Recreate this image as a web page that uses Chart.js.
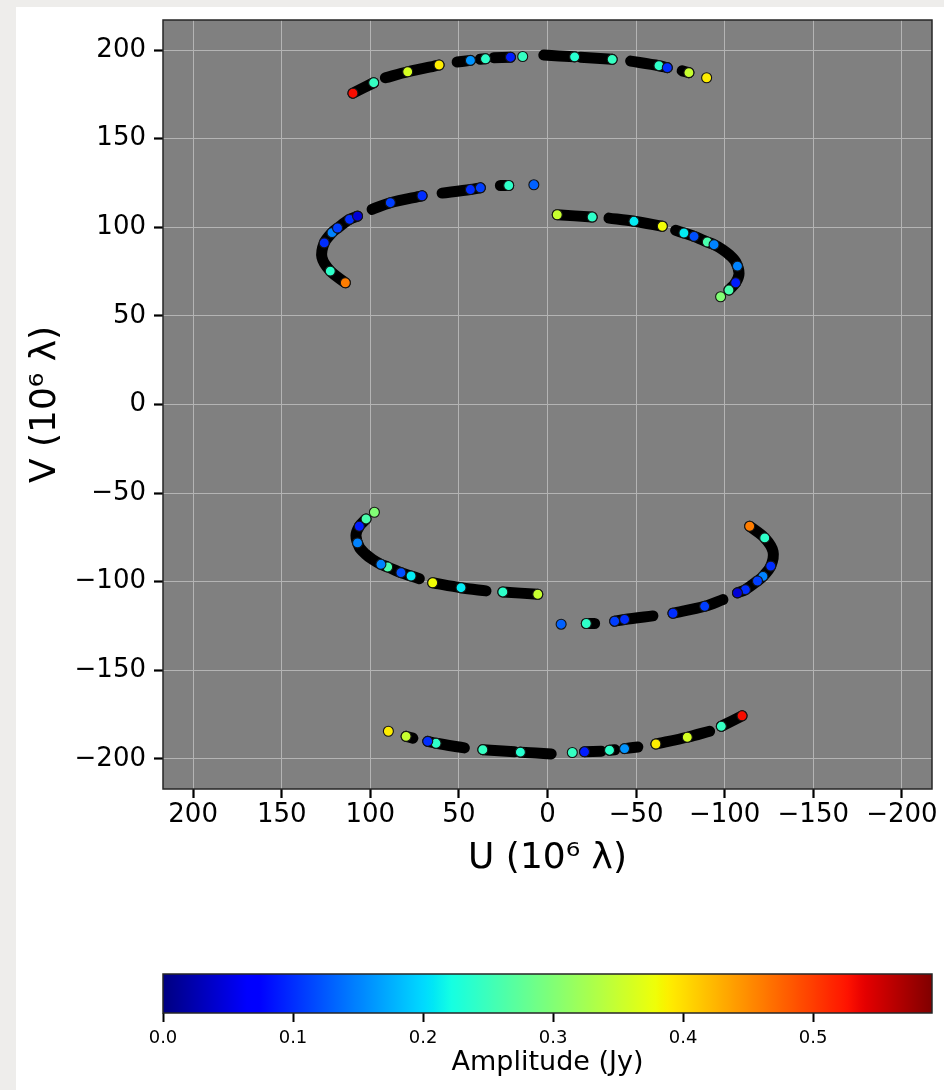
<!DOCTYPE html>
<html>
<head>
<meta charset="utf-8">
<script src="https://cdn.jsdelivr.net/npm/chart.js@4.4.1/dist/chart.umd.min.js"></script>
<style>
  html, body { margin: 0; padding: 0; background: #eeedeb; }
  body { width: 944px; height: 1090px; position: relative; overflow: hidden; }
  #panel { position: absolute; left: 16px; top: 7px; width: 928px; height: 1083px; background: #fff; }
  #uv { position: absolute; left: 0; top: 0; }
  #cbar { position: absolute; left: 0; top: 900px; }
</style>
</head>
<body>
<div id="panel"></div>
<canvas id="uv" width="944" height="900"></canvas>
<canvas id="cbar" width="944" height="190"></canvas>
<script>
// uv tracks (10^6 lambda), null = gap between scans
var trackU = [
  109.8, 98.1, null,
  91.5, 78.9, 61.2, null,
  51, 43.5, null,
  38, 35, null,
  30.3, 20.9, null,
  2.1, -15.3, null,
  -18.6, -36.5, null,
  -46.9, -62.9, -67.6, null,
  -76, -79.8, null,
  114.1, 122.6, 127.3, 126, 121.6, 118.5, 111.7, 107.2, null,
  99, 88.7, 70.8, null,
  59.5, 43.5, 37.9, null,
  26.6, 21.9, null,
  -5.5, -25.2, null,
  -34.7, -48.8, -64.8, null,
  -72.3, -77, -82.7, -90.2, -94, -98.7, -102.8, -106.2, -108.1, -106.2, -102.4, null,
  // conjugate half
  -109.8, -98.1, null,
  -91.5, -78.9, -61.2, null,
  -51, -43.5, null,
  -38, -35, null,
  -30.3, -20.9, null,
  -2.1, 15.3, null,
  18.6, 36.5, null,
  46.9, 62.9, 67.6, null,
  76, 79.8, null,
  -114.1, -122.6, -127.3, -126, -121.6, -118.5, -111.7, -107.2, null,
  -99, -88.7, -70.8, null,
  -59.5, -43.5, -37.9, null,
  -26.6, -21.9, null,
  5.5, 25.2, null,
  34.7, 48.8, 64.8, null,
  72.3, 77, 82.7, 90.2, 94, 98.7, 102.8, 106.2, 108.1, 106.2, 102.4
];
var trackV = [
  175.7, 181.6, null,
  184.4, 187.8, 191.6, null,
  193.3, 194.2, null,
  194.8, 195.1, null,
  195.7, 196.0, null,
  197.2, 196.2, null,
  196.0, 194.8, null,
  193.8, 191.2, 190.1, null,
  188.3, 187.3, null,
  68.7, 75.3, 83, 91.2, 97, 99.6, 104.5, 106.3, null,
  110.1, 113.9, 117.8, null,
  119.3, 121.3, 122.3, null,
  123.6, 123.6, null,
  107.1, 105.8, null,
  105.2, 103.4, 100.6, null,
  98.3, 96.8, 94.9, 91.7, 90.2, 87.5, 84.3, 80.5, 74, 68.7, 64.6, null,
  -175.7, -181.6, null,
  -184.4, -187.8, -191.6, null,
  -193.3, -194.2, null,
  -194.8, -195.1, null,
  -195.7, -196.0, null,
  -197.2, -196.2, null,
  -196.0, -194.8, null,
  -193.8, -191.2, -190.1, null,
  -188.3, -187.3, null,
  -68.7, -75.3, -83, -91.2, -97, -99.6, -104.5, -106.3, null,
  -110.1, -113.9, -117.8, null,
  -119.3, -121.3, -122.3, null,
  -123.6, -123.6, null,
  -107.1, -105.8, null,
  -105.2, -103.4, -100.6, null,
  -98.3, -96.8, -94.9, -91.7, -90.2, -87.5, -84.3, -80.5, -74, -68.7, -64.6
];

// visibilities that show their colour
var visU = [
  109.8, 98.1, 78.9, 61.2, 43.5, 35, 20.9, 14, -15.3, -36.5, -62.9, -67.6, -79.8, -89.8,
  114.1, 122.6, 126, 121.6, 118.5, 111.7, 107.2, 88.7, 70.8, 43.5, 37.9, 21.9, 7.7,
  -5.5, -25.2, -48.8, -64.8, -77, -82.7, -90.2, -94, -107.2, -106.2, -102.4, -97.7,
  -109.8, -98.1, -78.9, -61.2, -43.5, -35, -20.9, -14, 15.3, 36.5, 62.9, 67.6, 79.8, 89.8,
  -114.1, -122.6, -126, -121.6, -118.5, -111.7, -107.2, -88.7, -70.8, -43.5, -37.9, -21.9, -7.7,
  5.5, 25.2, 48.8, 64.8, 77, 82.7, 90.2, 94, 107.2, 106.2, 102.4, 97.7
];
var visV = [
  175.7, 181.6, 187.8, 191.6, 194.2, 195.1, 196, 196.4, 196.2, 194.8, 191.2, 190.1, 187.3, 184.4,
  68.7, 75.3, 91.2, 97, 99.6, 104.5, 106.3, 113.9, 117.8, 121.3, 122.3, 123.6, 124,
  107.1, 105.8, 103.4, 100.6, 96.8, 94.9, 91.7, 90.2, 78.1, 68.7, 64.6, 60.8,
  -175.7, -181.6, -187.8, -191.6, -194.2, -195.1, -196, -196.4, -196.2, -194.8, -191.2, -190.1, -187.3, -184.4,
  -68.7, -75.3, -91.2, -97, -99.6, -104.5, -106.3, -113.9, -117.8, -121.3, -122.3, -123.6, -124,
  -107.1, -105.8, -103.4, -100.6, -96.8, -94.9, -91.7, -90.2, -78.1, -68.7, -64.6, -60.8
];
var visAmp = [
  0.53, 0.245, 0.36, 0.39, 0.16, 0.24, 0.09, 0.245, 0.235, 0.245, 0.24, 0.10, 0.35, 0.39,
  0.46, 0.24, 0.10, 0.15, 0.11, 0.10, 0.045, 0.11, 0.10, 0.10, 0.11, 0.24, 0.13,
  0.35, 0.24, 0.21, 0.38, 0.21, 0.12, 0.26, 0.15, 0.15, 0.09, 0.26, 0.30,
  0.53, 0.245, 0.36, 0.39, 0.16, 0.24, 0.09, 0.245, 0.235, 0.245, 0.24, 0.10, 0.35, 0.39,
  0.46, 0.24, 0.10, 0.15, 0.11, 0.10, 0.045, 0.11, 0.10, 0.10, 0.11, 0.24, 0.13,
  0.35, 0.24, 0.21, 0.38, 0.21, 0.12, 0.26, 0.15, 0.15, 0.09, 0.26, 0.30
];

var axisTicks = [-200, -150, -100, -50, 0, 50, 100, 150, 200];
var ampMax = 0.5915;
var ampTicks = [0, 0.1, 0.2, 0.3, 0.4, 0.5];

var FONT = '"DejaVu Sans", "Liberation Sans", sans-serif';

// matplotlib jet
function jet(t) {
  t = Math.max(0, Math.min(1, t));
  function seg(pts) {
    for (var i = 1; i < pts.length; i++) {
      if (t <= pts[i][0]) {
        var a = pts[i - 1], b = pts[i];
        return a[1] + (b[1] - a[1]) * (t - a[0]) / (b[0] - a[0]);
      }
    }
    return pts[pts.length - 1][1];
  }
  var r = seg([[0, 0], [0.35, 0], [0.66, 1], [0.89, 1], [1, 0.5]]);
  var g = seg([[0, 0], [0.125, 0], [0.375, 1], [0.64, 1], [0.91, 0], [1, 0]]);
  var b = seg([[0, 0.5], [0.11, 1], [0.34, 1], [0.65, 0], [1, 0]]);
  return 'rgb(' + Math.round(r * 255) + ',' + Math.round(g * 255) + ',' + Math.round(b * 255) + ')';
}

function minus(v) {
  return v < 0 ? '\u2212' + Math.abs(v) : String(v);
}

var trackData = trackU.map(function (u, i) { return { x: u, y: trackV[i] }; });
var visData = visU.map(function (u, i) { return { x: u, y: visV[i] }; });
var visColors = visAmp.map(function (a) { return jet(a / ampMax); });

var framePlugin = {
  id: 'frame',
  beforeDraw: function (chart) {
    var a = chart.chartArea, ctx = chart.ctx;
    ctx.save();
    ctx.fillStyle = '#808080';
    ctx.fillRect(a.left, a.top, a.right - a.left, a.bottom - a.top);
    ctx.restore();
  },
  afterDraw: function (chart) {
    var a = chart.chartArea, ctx = chart.ctx;
    ctx.save();
    ctx.strokeStyle = '#262626';
    ctx.lineWidth = 1.5;
    ctx.strokeRect(a.left, a.top, a.right - a.left, a.bottom - a.top);
    ctx.restore();
  }
};

function axisOpts(title, isX) {
  return {
    type: 'linear',
    reverse: isX,
    min: -217,
    max: 217,
    afterBuildTicks: function (s) { s.ticks = axisTicks.map(function (v) { return { value: v }; }); },
    afterFit: function (s) {
      if (isX) s.height = 111; else s.width = 147;
      s.paddingTop = 0; s.paddingBottom = 0; s.paddingLeft = 0; s.paddingRight = 0;
    },
    border: { display: false },
    grid: { color: '#b4b4b4', lineWidth: 1, tickColor: '#000', tickLength: 9, tickWidth: 2.2 },
    ticks: {
      color: '#000',
      font: { family: FONT, size: 26 },
      padding: isX ? 2 : 8,
      maxRotation: 0,
      callback: function (v) { return minus(v); }
    },
    title: {
      display: true,
      text: title,
      color: '#000',
      font: { family: FONT, size: 36 },
      padding: isX ? { top: 0, bottom: 20 } : { top: 8, bottom: 0 }
    }
  };
}

new Chart(document.getElementById('uv'), {
  type: 'scatter',
  data: {
    datasets: [
      {
        data: visData,
        pointRadius: 5,
        pointBackgroundColor: visColors,
        pointBorderColor: '#141414',
        pointBorderWidth: 1.1,
        order: 0
      },
      {
        data: trackData,
        showLine: true,
        spanGaps: false,
        borderColor: '#000',
        borderWidth: 11,
        borderCapStyle: 'round',
        borderJoinStyle: 'round',
        tension: 0.3,
        pointRadius: 0,
        order: 1
      }
    ]
  },
  options: {
    responsive: false,
    animation: false,
    events: [],
    layout: { padding: { left: 16, top: 20, right: 12, bottom: 0 } },
    plugins: { legend: { display: false }, tooltip: { enabled: false } },
    scales: {
      x: axisOpts('U (10\u2076 \u03bb)', true),
      y: axisOpts('V (10\u2076 \u03bb)', false)
    }
  },
  plugins: [framePlugin]
});

// colour bar
var cbarPlugin = {
  id: 'cbar',
  beforeDatasetsDraw: function (chart) {
    var a = chart.chartArea, ctx = chart.ctx;
    var grad = ctx.createLinearGradient(a.left, 0, a.right, 0);
    for (var i = 0; i <= 128; i++) grad.addColorStop(i / 128, jet(i / 128));
    ctx.save();
    ctx.fillStyle = grad;
    ctx.fillRect(a.left, a.top, a.right - a.left, a.bottom - a.top);
    ctx.strokeStyle = '#262626';
    ctx.lineWidth = 1.5;
    ctx.strokeRect(a.left, a.top, a.right - a.left, a.bottom - a.top);
    ctx.restore();
  }
};

new Chart(document.getElementById('cbar'), {
  type: 'scatter',
  data: { datasets: [{ data: [] }] },
  options: {
    responsive: false,
    animation: false,
    events: [],
    layout: { padding: { left: 163, top: 74, right: 12, bottom: 0 } },
    plugins: { legend: { display: false }, tooltip: { enabled: false } },
    scales: {
      x: {
        type: 'linear',
        min: 0,
        max: ampMax,
        afterBuildTicks: function (s) { s.ticks = ampTicks.map(function (v) { return { value: v }; }); },
        afterFit: function (s) { s.height = 77; s.paddingLeft = 0; s.paddingRight = 0; },
        border: { display: false },
        grid: { drawOnChartArea: false, tickColor: '#000', tickLength: 9, tickWidth: 2 },
        ticks: {
          color: '#000',
          font: { family: FONT, size: 18 },
          padding: 6,
          maxRotation: 0,
          callback: function (v) { return v.toFixed(1); }
        },
        title: {
          display: true,
          text: 'Amplitude (Jy)',
          color: '#000',
          font: { family: FONT, size: 27 },
          padding: { top: 0, bottom: 11 }
        }
      },
      y: { display: false, min: 0, max: 1 }
    }
  },
  plugins: [cbarPlugin]
});
</script>
</body>
</html>
